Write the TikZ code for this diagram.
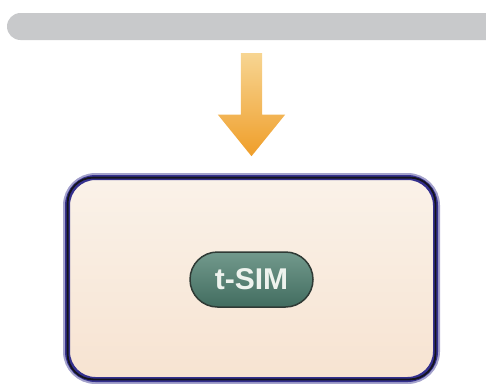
\documentclass[tikz,border=0pt]{standalone}
\usepackage{fontspec}
\setmainfont{Liberation Sans}
\usetikzlibrary{shapes.arrows}
\definecolor{barGray}{HTML}{C8C9CB}
\definecolor{arrowTop}{HTML}{F7D592}
\definecolor{arrowBot}{HTML}{EF9E2A}
\definecolor{panelEdge}{HTML}{34308E}
\definecolor{panelLine}{HTML}{14141E}
\definecolor{panelTop}{HTML}{FAF2E9}
\definecolor{panelBot}{HTML}{F7E3D1}
\definecolor{chipEdge}{HTML}{2F3A35}
\definecolor{chipTop}{HTML}{72998C}
\definecolor{chipBot}{HTML}{426D60}
\definecolor{chipText}{HTML}{EEF3EE}

\begin{document}
\begin{tikzpicture}[x=1pt,y=-1pt,
      bar/.style={fill=barGray,rounded corners=13.5pt,minimum width=513pt,minimum height=27pt,inner sep=0pt},
      flow/.style={single arrow,shape border rotate=270,top color=arrowTop,bottom color=arrowBot,draw=none,minimum height=103pt,minimum width=67pt,single arrow head extend=23pt,single arrow tip angle=78,inner sep=10.5pt},
      panel/.style={rectangle,rounded corners=28pt,draw=panelEdge,line width=5pt,preaction={draw=panelEdge!45,line width=9pt},top color=panelTop,bottom color=panelBot,minimum width=368pt,minimum height=202pt},
      chip/.style={rectangle,rounded corners=27.5pt,draw=chipEdge,line width=1.5pt,top color=chipTop,bottom color=chipBot,minimum width=123pt,minimum height=55pt,inner sep=0pt,text=chipText,font=\fontsize{30}{30}\selectfont\bfseries}]
         \clip (0,0) rectangle (486,383);
         \node[bar] (bar) at (263.5,26.5) {};
         \node[flow,anchor=tail] (flow) at (251.5,53) {};
         \node[panel] (host) at (251.5,278.5) {};
         \draw[panelLine,line width=1.8pt,rounded corners=25.5pt] ([shift={(2.6,2.6)}]host.north west) rectangle ([shift={(-2.6,-2.6)}]host.south east);
         \node[chip] (tsim) at (251.5,279.5) {t-SIM};
      \end{tikzpicture}
\end{document}
